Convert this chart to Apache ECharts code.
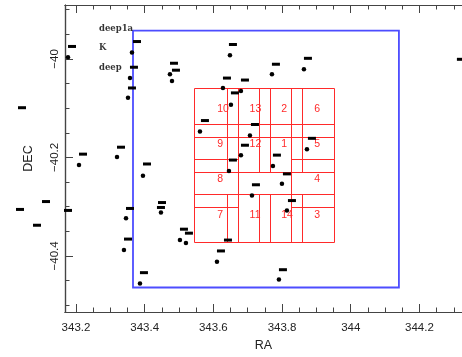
<!DOCTYPE html>
<html>
<head>
<meta charset="utf-8">
<script src="https://cdn.jsdelivr.net/npm/echarts@6/dist/echarts.min.js"></script>
<style>
  html, body { margin: 0; padding: 0; background: #fff; }
  #chart { width: 462px; height: 357px; }
</style>
</head>
<body>
<div id="chart"></div>
<script>
// axis ranges and ticks
const raMin = 343.168, raMax = 344.324;
const decMin = -40.514, decMax = -39.8905;
const raMajor = [343.2, 343.4, 343.6, 343.8, 344, 344.2];
const raMinor = [343.2, 343.25, 343.3, 343.35, 343.4, 343.45, 343.5, 343.55, 343.6, 343.65, 343.7, 343.75,
  343.8, 343.85, 343.9, 343.95, 344, 344.05, 344.1, 344.15, 344.2, 344.25, 344.3];
const decMajor = [-40, -40.2, -40.4];
const decMinor = [-39.9, -39.95, -40, -40.05, -40.1, -40.15, -40.2, -40.25, -40.3, -40.35, -40.4, -40.45, -40.5];

// survey footprint (blue)
const footRa = [343.366, 344.1403];
const footDec = [-39.9426, -40.4642];

// fields (red)
const fieldIds = ['10', '13', '2', '6', '9', '12', '1', '5', '8', '4', '7', '11', '14', '3'];
const fieldRa0 = [343.5444, 343.6396, 343.7327, 343.8274, 343.5444, 343.6396, 343.7327, 343.8274, 343.5444, 343.8274, 343.5444, 343.6396, 343.7327, 343.8274];
const fieldRa1 = [343.6725, 343.7657, 343.8565, 343.9540, 343.6725, 343.7657, 343.8565, 343.9540, 343.6725, 343.9540, 343.6725, 343.7657, 343.8565, 343.9540];
const fieldDec0 = [-40.0596, -40.0596, -40.0596, -40.0596, -40.1318, -40.1318, -40.1318, -40.1318, -40.2034, -40.2034, -40.2750, -40.2750, -40.2750, -40.2750];
const fieldDec1 = [-40.1587, -40.1587, -40.1587, -40.1587, -40.2295, -40.2295, -40.2295, -40.2295, -40.3003, -40.3003, -40.3719, -40.3719, -40.3719, -40.3719];

// objects (dots)
const dotRa = [343.1767, 343.3630, 343.3572, 343.3514, 343.6483, 343.4736, 343.4795, 343.7706, 343.8637, 343.6279,
  343.6803, 343.6512, 343.5610, 343.7065, 343.6803, 343.7735, 343.8725, 343.6454, 343.7997, 343.7124,
  343.8142, 343.2087, 343.3194, 343.3950, 343.3456, 343.3397, 343.3863, 343.5027, 343.5202, 343.6105,
  343.7909, 343.4474];
const dotDec = [-39.9968, -39.9868, -40.0389, -40.0790, -39.9928, -40.0309, -40.0449, -40.0309, -40.0209, -40.0590,
  -40.0650, -40.0931, -40.1472, -40.1553, -40.1954, -40.2174, -40.1834, -40.2275, -40.2536, -40.2776,
  -40.3077, -40.2154, -40.1994, -40.2375, -40.3238, -40.3880, -40.4562, -40.3679, -40.3739, -40.4120,
  -40.4481, -40.3117];

// tiny labels (dashes)
const tagRa = [343.1884, 343.0428, 343.3776, 343.3688, 343.3630, 343.6570, 343.4853, 343.4911, 343.6396, 343.6920,
  343.7822, 343.8754, 343.6628, 343.5755, 343.7211, 343.6920, 343.7851, 343.8870, 343.6570, 343.8142,
  343.7240, 343.8288, 343.2204, 343.3310, 343.4067, 343.1127, 343.0370, 343.0865, 343.1767, 343.3572,
  343.3514, 343.3979, 343.6425, 343.6221, 343.8026, 343.5144, 343.5289, 343.4504, 343.4474, 344.3208];
const tagDec = [-39.9747, -40.0991, -39.9647, -40.0169, -40.0590, -39.9707, -40.0088, -40.0229, -40.0389, -40.0429,
  -40.0108, -39.9988, -40.0690, -40.1252, -40.1332, -40.1753, -40.1954, -40.1613, -40.2054, -40.2335,
  -40.2556, -40.2877, -40.1934, -40.1793, -40.2134, -40.2897, -40.3057, -40.3378, -40.3077, -40.3037,
  -40.3659, -40.4341, -40.3679, -40.3900, -40.4281, -40.3458, -40.3539, -40.2917, -40.3017, -40.0008];

// legend words
const noteText = ['deep1a', 'K', 'deep'];
const noteRa = [343.267, 343.267, 343.267];
const noteDec = [-39.9386, -39.9777, -40.0189];

const chart = echarts.init(document.getElementById('chart'));

const axisColor = '#444';
const labelFont = { color: '#222', fontFamily: 'Liberation Sans', fontSize: 11.5 };

function xAx(pos, ticks, len, labels) {
  return {
    type: 'value', position: pos, min: raMin, max: raMax,
    axisLine: { show: true, lineStyle: { color: axisColor, width: 1.2 } },
    axisTick: { show: true, inside: true, length: len, customValues: ticks, lineStyle: { color: axisColor, width: 1 } },
    axisLabel: labels ? Object.assign({ show: true, margin: 10, customValues: raMajor, formatter: v => String(v) }, labelFont) : { show: false },
    splitLine: { show: false },
    name: labels ? 'RA' : '',
    nameLocation: 'middle', nameGap: 27,
    nameTextStyle: { color: '#222', fontFamily: 'Liberation Sans', fontSize: 12.5 }
  };
}
function yAx(ticks, len, labels) {
  return {
    type: 'value', position: 'left', min: decMin, max: decMax,
    axisLine: { show: true, lineStyle: { color: axisColor, width: 1.2 } },
    axisTick: { show: true, inside: true, length: len, customValues: ticks, lineStyle: { color: axisColor, width: 1 } },
    axisLabel: labels ? Object.assign({ show: true, rotate: 90, margin: 4, customValues: decMajor,
      formatter: v => '\u2212' + Math.abs(v) }, labelFont) : { show: false },
    splitLine: { show: false },
    name: labels ? 'DEC' : '',
    nameLocation: 'middle', nameRotate: 90, nameGap: 30,
    nameTextStyle: { color: '#222', fontFamily: 'Liberation Sans', fontSize: 12.5 }
  };
}

chart.setOption({
  animation: false,
  grid: { left: 65, right: 0, top: 5, bottom: 41 },
  xAxis: [
    xAx('bottom', raMajor, 8, true),
    xAx('bottom', raMinor, 4.5, false),
    xAx('top', raMajor, 8, false),
    xAx('top', raMinor, 4.5, false)
  ],
  yAxis: [
    yAx(decMajor, 8, true),
    yAx(decMinor, 4.5, false)
  ],
  series: [
    {
      type: 'custom', clip: false, silent: true,
      data: [[footRa[0], footRa[1], footDec[0], footDec[1]]],
      renderItem(params, api) {
        const a = api.coord([api.value(0), api.value(2)]);
        const b = api.coord([api.value(1), api.value(3)]);
        return {
          type: 'rect',
          shape: { x: a[0], y: a[1], width: b[0] - a[0], height: b[1] - a[1] },
          style: { fill: 'none', stroke: '#4d4dff', lineWidth: 1.8 }
        };
      }
    },
    {
      type: 'custom', clip: false, silent: true,
      data: fieldIds.map((id, i) => [fieldRa0[i], fieldRa1[i], fieldDec0[i], fieldDec1[i], id]),
      renderItem(params, api) {
        const a = api.coord([api.value(0), api.value(2)]);
        const b = api.coord([api.value(1), api.value(3)]);
        const c = api.coord([(api.value(0) + api.value(1)) / 2, (api.value(2) + api.value(3)) / 2]);
        return {
          type: 'group',
          children: [
            {
              type: 'rect',
              shape: { x: Math.round(a[0]) + 0.5, y: Math.round(a[1]) + 0.5, width: Math.round(b[0] - a[0]), height: Math.round(b[1] - a[1]) },
              style: { fill: 'none', stroke: '#ff2a2a', lineWidth: 1 }
            },
            {
              type: 'text', x: c[0] + 1, y: c[1] - 3.5,
              style: { text: fieldIds[params.dataIndex], fill: '#ff2a2a', font: '10.5px "Liberation Sans"', align: 'left', verticalAlign: 'middle' }
            }
          ]
        };
      }
    },
    {
      type: 'scatter', clip: false, silent: true,
      symbol: 'circle', symbolSize: 4.5,
      itemStyle: { color: '#000', opacity: 1 },
      data: dotRa.map((r, i) => [r, dotDec[i]])
    },
    {
      type: 'scatter', clip: false, silent: true,
      symbol: 'rect', symbolSize: [8, 3],
      itemStyle: { color: '#000', opacity: 1 },
      data: tagRa.map((r, i) => [r, tagDec[i]])
    },
    {
      type: 'scatter', clip: false, silent: true,
      symbolSize: 0,
      data: noteText.map((t, i) => ({ name: t, value: [noteRa[i], noteDec[i]] })),
      label: {
        show: true, position: 'right', distance: 0,
        formatter: p => p.name,
        color: '#000', fontFamily: 'DejaVu Serif', fontWeight: 'bold', fontSize: 8.5
      }
    }
  ]
});
</script>
</body>
</html>
